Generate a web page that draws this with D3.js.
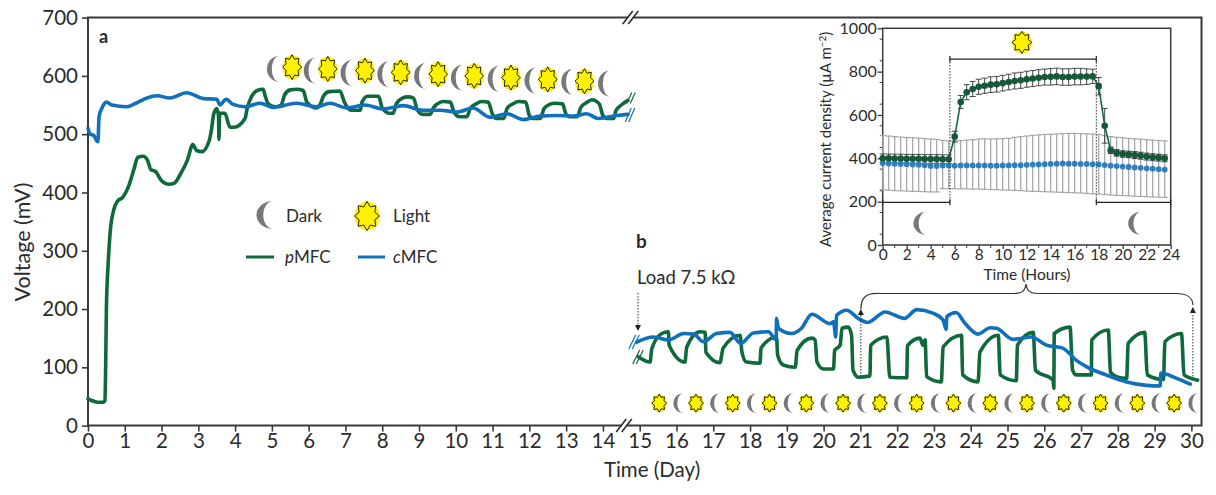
<!DOCTYPE html>
<html><head><meta charset="utf-8">
<script src="https://cdn.jsdelivr.net/npm/d3@7"></script>
<style>
html,body{margin:0;padding:0;background:#fff}
svg{display:block}
text{font-family:Lato,"Open Sans",sans-serif;fill:#2b2b2b}
</style></head><body><svg id="c" width="1216" height="495"></svg>
<script>
// Panel a, pMFC: [day, mV]
const pmfcA=[[0,46],[.1,43],[.2,41],[.3,40],[.42,40],[.46,43],[.48,100],[.5,200],[.55,280],[.6,330],[.7,370],[.8,385],[.95,392],[1.1,410],[1.25,440],[1.35,460],[1.5,462],[1.62,455],[1.7,440],[1.85,435],[2,420],[2.2,414],[2.35,416],[2.5,430],[2.7,455],[2.85,482],[2.95,472],[3.1,470],[3.3,490],[3.35,505],[3.42,535],[3.5,544],[3.55,530],[3.56,491],[3.58,536],[3.72,536],[3.86,512],[3.97,512],[4.27,527],[4.33,545],[4.4,558],[4.6,575],[4.76,577],[4.82,565],[4.9,552],[5.08,547],[5.25,550],[5.35,568],[5.5,576],[5.68,577],[5.85,575],[5.95,555],[6.2,545],[6.32,552],[6.4,565],[6.55,573],[6.85,574],[6.97,555],[7.15,541],[7.4,541],[7.45,555],[7.6,565],[7.9,565],[8,545],[8.2,536],[8.3,536],[8.38,552],[8.55,562],[8.7,564],[8.85,562],[8.95,542],[9.1,534],[9.3,534],[9.4,546],[9.5,552],[9.65,556],[9.85,555],[9.95,538],[10.1,530],[10.3,530],[10.4,545],[10.55,552],[10.7,556],[10.88,555],[11,534],[11.1,527],[11.3,527],[11.4,545],[11.55,552],[11.7,556],[11.9,555],[12,532],[12.1,527],[12.3,527],[12.4,544],[12.55,551],[12.7,553],[12.9,552],[13,534],[13.1,530],[13.3,530],[13.4,546],[13.55,554],[13.7,559],[13.9,552],[14,532],[14.1,527],[14.3,527],[14.35,540],[14.5,550],[14.68,558]];
// Panel a, cMFC
const cmfcA=[[0,510],[.06,500],[.15,498],[.27,487],[.3,530],[.38,545],[.5,555],[.65,550],[1.05,547],[1.3,553],[1.6,562],[1.87,566],[2.23,562],[2.68,571],[3.14,561],[3.5,560],[3.59,550],[3.75,560],[3.95,551],[4.27,547],[4.68,553],[5.04,546],[5.67,553],[6.21,547],[6.58,553],[7.04,545],[7.53,550],[8.03,543],[8.57,549],[9.1,541],[9.57,541],[10.03,538],[10.47,545],[10.93,529],[11.4,535],[11.83,525],[12.3,531],[12.75,532],[13.2,531],[13.56,535],[13.87,527],[14.38,532],[14.68,534]];
// Panel b, pMFC
const pmfcB=[[14.96,118],[15.28,109],[15.33,132],[15.6,158],[15.78,161],[15.8,138],[16.23,109],[16.28,135],[16.64,161],[16.78,160],[16.8,126],[17.18,108],[17.27,133],[17.73,155],[17.78,126],[17.9,109],[18.27,107],[18.3,133],[18.72,152],[18.75,121],[18.9,104],[19.23,100],[19.28,129],[19.68,150],[19.77,147],[19.82,109],[20,97],[20.27,97],[20.3,129],[20.45,138],[20.5,167],[20.67,169],[20.76,155],[20.8,95],[20.94,83],[21.26,85],[21.28,138],[21.72,152],[21.8,83],[22.26,82],[22.28,137],[22.62,150],[22.7,138],[22.76,147],[22.8,84],[23.2,75],[23.25,135],[23.75,155],[23.78,87],[24.2,75],[24.25,126],[24.75,155],[24.8,87],[25.24,77],[25.27,138],[25.7,160],[25.76,95],[26.24,78],[26.26,64],[26.27,158],[26.7,169],[26.77,95],[26.87,87],[27.28,87],[27.29,147],[27.74,164],[27.8,92],[27.96,84],[28.24,81],[28.28,141],[28.73,160],[28.8,87],[29.24,79],[29.28,144],[29.73,158],[29.8,87],[30.17,78]];
// Panel b, cMFC
const cmfcB=[[14.92,143],[15.37,152],[15.78,147],[16.2,158],[16.47,157],[16.73,144],[17.09,158],[17.45,160],[17.75,141],[18.09,159],[18.5,161],[18.71,147],[18.72,184],[18.77,167],[19.13,158],[19.4,167],[19.68,191],[20.17,175],[20.27,178],[20.33,152],[20.35,189],[20.63,198],[20.94,184],[21.2,177],[21.67,195],[22.2,184],[22.53,199],[22.97,193],[23.25,181],[23.33,165],[23.35,187],[23.6,194],[23.85,175],[24.2,157],[24.53,168],[24.7,167],[25.15,148],[25.65,152],[26.06,138],[26.5,133],[26.87,112],[27.18,100],[27.68,87],[28.24,75],[28.78,69],[29.15,68],[29.17,90],[29.6,81],[29.97,71]];
// Panel c
const hours=d3.range(48).map(i=>i/2);
const insetP=[400,400,399,399,398,398,398,397,397,397,396,396,500,660,705,720,730,735,740,742,747,752,757,760,765,768,772,775,776,778,775,775,777,777,777,778,733,550,437,425,420,418,415,412,408,405,403,400];
const insetPErr=[20,20,20,20,20,20,20,20,20,20,20,20,25,30,35,35,35,35,36,36,36,36,37,37,37,37,37,37,38,38,38,38,38,38,36,33,40,80,15,15,15,15,16,16,16,16,16,16];
const insetC=[378,376,375,374,373,371,370,368,365,365,367,367,366,367,367,367,367,367,366,366,367,367,368,368,370,371,372,373,374,375,376,375,375,374,374,373,372,369,366,364,362,360,358,356,354,352,350,348];
const insetCUp=[505,503,500,498,496,495,493,491,489,487,483,480,480,482,484,486,489,490,489,490,491,493,497,500,503,506,508,510,511,512,514,515,515,514,513,512,510,505,500,497,495,492,490,488,486,484,482,480];
const insetCLo=[255,253,251,250,249,248,247,246,245,245,260,260,260,259,259,258,258,257,256,255,254,253,252,251,249,248,247,246,245,244,243,242,241,240,238,236,235,233,231,229,228,227,225,224,223,222,221,220];
// Icons
const moonA=[[5.03,612],[6.03,609],[7.03,605],[8.03,603],[9.03,600],[10.03,597],[11.03,595],[12.03,592],[13.03,590],[14.03,587]];
const sunA=[[5.55,615],[6.52,612],[7.53,609],[8.5,606],[9.52,603],[10.5,600],[11.5,597],[12.5,594],[13.5,591]];
const moonB=d3.range(15).map(i=>16.05+i);
const sunB=d3.range(15).map(i=>15.53+i);
const iconBmV=[38.5];
const xTicks=d3.range(0,15).concat(d3.range(15,31));
const yTicks=d3.range(0,701,100);

const GREEN="#0f6a3b",BLUE="#1170bb",GRAY="#77787b",DARK="#3a3a3a";
const svg=d3.select("#c");
const x=d3.scaleLinear().domain([0,30]).range([88,1191.4]);
const y=d3.scaleLinear().domain([0,700]).range([425.6,17.6]);
const xi=d3.scaleLinear().domain([0,24]).range([882.7,1170.7]);
const yi=d3.scaleLinear().domain([0,1000]).range([245,28.3]);
const right=1201.5;

function moon(g,px,py,w,h){
 g.append("path").attr("transform",`translate(${px},${py})`)
  .attr("d",`M${w/2},${-h/2}A${w},${h/2} 0 0 0 ${w/2},${h/2}A${w*.6},${h/2} 0 0 1 ${w/2},${-h/2}Z`)
  .attr("fill",GRAY);
}
function sun(g,px,py,rx,ry){
 const s=g.append("g").attr("transform",`translate(${px},${py})`);
 s.append("ellipse").attr("rx",rx).attr("ry",ry).attr("fill","#fff200");
 const pts=d3.range(16).map(i=>{const a=i*Math.PI/8-Math.PI/2,k=i%2?.68:1;return[Math.cos(a)*rx*k,Math.sin(a)*ry*k]});
 s.append("polygon").attr("points",pts.map(p=>p.join(",")).join(" ")).attr("fill","none").attr("stroke","#111").attr("stroke-width",.9);
}
function slash(g,px,py,color,dx,dy,gap,w){
 [-gap/2,gap/2].forEach(o=>g.append("line").attr("x1",px+o-dx).attr("y1",py+dy).attr("x2",px+o+dx).attr("y2",py-dy).attr("stroke",color).attr("stroke-width",w));
}

// Main frame
const frame=svg.append("g");
frame.append("path").attr("fill","none").attr("stroke",DARK).attr("stroke-width",2)
 .attr("d",`M${x(0)},${y(0)}V${y(700)}H${right}V${y(0)}H${x(0)}`);
const ax=svg.append("g").attr("transform",`translate(0,${y(0)})`).call(d3.axisBottom(x).tickValues(xTicks).tickSize(6).tickPadding(2).tickFormat(d3.format("d")));
ax.select(".domain").remove();
ax.selectAll("line").attr("stroke",DARK).attr("stroke-width",1.6);
ax.selectAll("text").attr("font-size",20.5);
const ay=svg.append("g").attr("transform",`translate(${x(0)},0)`).call(d3.axisLeft(y).tickValues(yTicks).tickSize(6).tickPadding(4));
ay.select(".domain").remove();
ay.selectAll("line").attr("stroke",DARK).attr("stroke-width",1.6);
ay.selectAll("text").attr("font-size",20.5);
[[630.5,y(700)],[624,y(0)]].forEach(([px,py])=>{
 svg.append("rect").attr("x",px-2.5).attr("y",py-3).attr("width",5).attr("height",6).attr("fill","#fff");
 slash(svg,px,py,"#333",5,6.5,5.5,1.7);
});

// Curves
const line=d3.line().curve(d3.curveMonotoneX).x(d=>x(d[0])).y(d=>y(d[1]));
[[pmfcA,GREEN],[pmfcB,GREEN],[cmfcA,BLUE],[cmfcB,BLUE]].forEach(([d,c])=>{
 svg.append("path").datum(d).attr("d",line).attr("fill","none").attr("stroke",c).attr("stroke-width",3.6).attr("stroke-linejoin","round").attr("stroke-linecap","round");
});
slash(svg,631,98,GREEN,2.5,5.5,3.5,1.2);
slash(svg,630,115,BLUE,3,7,3.5,1.2);
slash(svg,634,342,BLUE,3.5,7,3.5,1.2);
slash(svg,638,357,GREEN,3.5,7,3.5,1.2);

// Icons
moonA.forEach(d=>moon(svg,x(d[0]),y(d[1]),12,26));
sunA.forEach(d=>sun(svg,x(d[0]),y(d[1]),9.5,12.5));
moonB.forEach(d=>moon(svg,x(d),y(iconBmV[0]),10,20));
sunB.forEach(d=>sun(svg,x(d),y(iconBmV[0]),7.5,9));

// Legend
moon(svg,265,215,17,28);
sun(svg,367,216,12.5,14.5);
const T=(s,px,py,fs,o={})=>{const t=svg.append("text").attr("x",px).attr("y",py).attr("font-size",fs).text(s);
 if(o.w)t.attr("font-weight",o.w); if(o.a)t.attr("text-anchor",o.a); if(o.r)t.attr("transform",`rotate(-90 ${px} ${py})`); return t;};
T("Dark",286,222,17);T("Light",393,222,17);
svg.append("line").attr("x1",246).attr("x2",274).attr("y1",257).attr("y2",257).attr("stroke",GREEN).attr("stroke-width",3);
svg.append("line").attr("x1",358).attr("x2",385).attr("y1",257).attr("y2",257).attr("stroke",BLUE).attr("stroke-width",3);
const tp=T("",285,263,17);tp.append("tspan").attr("font-style","italic").text("p");tp.append("tspan").text("MFC");
const tc=T("",393,263,17);tc.append("tspan").attr("font-style","italic").text("c");tc.append("tspan").text("MFC");

// Labels
T("a",99,43,18,{w:700});T("b",636,248,19,{w:700});T("c",908,44,18,{w:700});
T("Load 7.5 k\u03A9",637,284,18.5);
T("Time (Day)",652,477,20.5,{a:"middle"});
T("Voltage (mV)",30,242,21.5,{a:"middle",r:1});

// Annotations panel b
const arrowHead=(px,py,s=4)=>svg.append("path").attr("d",`M${px},${py}l${-s*.75},${s*1.5}h${s*1.5}z`).attr("fill","#222");
const dot=(px,y1,y2)=>svg.append("line").attr("x1",px).attr("x2",px).attr("y1",y1).attr("y2",y2).attr("stroke","#333").attr("stroke-width",1).attr("stroke-dasharray","1.5 1.5");
dot(638,293,326);svg.append("path").attr("d","M638,331l-3,-6h6z").attr("fill","#222");
dot(x(21)+.5,315,376);arrowHead(x(21)+.5,309);
dot(x(30)+1.5,315,377);arrowHead(x(30)+1.5,307);
svg.append("path").attr("fill","none").attr("stroke","#333").attr("stroke-width",1.2)
 .attr("d",`M${x(21)+.5},309C${x(21)+.5},298 866,293 878,293.5H1014C1022,293.5 1025,291 1026,284C1027,291 1030,293.5 1038,293.5H1176C1187,293.5 ${x(30)+1.5},298 ${x(30)+1.5},305`);

// Inset
const inset=svg.append("g");
inset.append("rect").attr("x",xi(0)).attr("y",yi(1000)).attr("width",xi(24)-xi(0)).attr("height",yi(0)-yi(1000)).attr("fill","#fff").attr("stroke",DARK).attr("stroke-width",1.5);
const axi=inset.append("g").attr("transform",`translate(0,${yi(0)})`).call(d3.axisBottom(xi).tickValues(d3.range(0,25,2)).tickSize(4).tickPadding(0));
axi.select(".domain").remove();axi.selectAll("line").attr("stroke",DARK).attr("stroke-width",1.3);axi.selectAll("text").attr("font-size",15.5);
const ayi=inset.append("g").attr("transform",`translate(${xi(0)},0)`).call(d3.axisLeft(yi).tickValues(d3.range(0,1001,200)).tickSize(5).tickPadding(1).tickFormat(d3.format("d")));
ayi.select(".domain").remove();ayi.selectAll("line").attr("stroke",DARK).attr("stroke-width",1.3);ayi.selectAll("text").attr("font-size",16);
d3.range(1,24,2).forEach(h=>inset.append("line").attr("x1",xi(h)).attr("x2",xi(h)).attr("y1",yi(0)).attr("y2",yi(0)+3).attr("stroke",DARK));
d3.range(50,1000,100).forEach(v=>inset.append("line").attr("x1",xi(0)-3).attr("x2",xi(0)).attr("y1",yi(v)).attr("y2",yi(v)).attr("stroke",DARK));

// c error bars
hours.forEach((h,i)=>{
 const g=inset.append("g").attr("stroke","#a0a4a7").attr("stroke-width",1.2);
 g.append("line").attr("x1",xi(h)).attr("x2",xi(h)).attr("y1",yi(insetCUp[i])).attr("y2",yi(insetCLo[i]));
 [insetCUp[i],insetCLo[i]].forEach(v=>g.append("line").attr("x1",xi(h)-3).attr("x2",xi(h)+3).attr("y1",yi(v)).attr("y2",yi(v)));
});
hours.forEach((h,i)=>{
 const g=inset.append("g").attr("stroke","#333").attr("stroke-width",.9);
 g.append("line").attr("x1",xi(h)).attr("x2",xi(h)).attr("y1",yi(insetP[i]+insetPErr[i])).attr("y2",yi(insetP[i]-insetPErr[i]));
 [1,-1].forEach(s=>g.append("line").attr("x1",xi(h)-3).attr("x2",xi(h)+3).attr("y1",yi(insetP[i]+s*insetPErr[i])).attr("y2",yi(insetP[i]+s*insetPErr[i])));
});
inset.append("path").datum(hours.map((h,i)=>[h,insetP[i]])).attr("fill","none").attr("stroke",GREEN).attr("stroke-width",1.6)
 .attr("d",d3.line().x(d=>xi(d[0])).y(d=>yi(d[1])));
hours.forEach((h,i)=>{
 inset.append("circle").attr("cx",xi(h)).attr("cy",yi(insetC[i])).attr("r",2.9).attr("fill","#2f7fbd");
 inset.append("circle").attr("cx",xi(h)).attr("cy",yi(insetP[i])).attr("r",3.3).attr("fill","#17573a");
});
// c brackets
const bar=(a,b,v)=>{inset.append("line").attr("x1",xi(a)).attr("x2",xi(b)).attr("y1",yi(v)).attr("y2",yi(v)).attr("stroke","#222").attr("stroke-width",1.2);
 [a,b].forEach(t=>inset.append("line").attr("x1",xi(t)).attr("x2",xi(t)).attr("y1",yi(v)-3).attr("y2",yi(v)+3).attr("stroke","#222").attr("stroke-width",1.2));};
bar(0,5.6,197);bar(5.6,17.8,858);bar(17.8,24,197);
[5.6,17.8].forEach(t=>inset.append("line").attr("x1",xi(t)).attr("x2",xi(t)).attr("y1",yi(858)).attr("y2",yi(197)).attr("stroke","#333").attr("stroke-dasharray","1.5 1.5"));
moon(inset,xi(3.1),yi(100),13,23);
moon(inset,xi(21),yi(100),13,23);
sun(inset,xi(11.6),yi(935),10,11);
T("Time (Hours)",1027,280,15.5,{a:"middle"});
T("Average current density (\u00B5A m",831,247,15,{r:1}).call(t=>{t.append("tspan").attr("font-size",10).attr("dy",-5).text("\u22122");t.append("tspan").attr("dy",5).text(")");});
</script></body></html>
